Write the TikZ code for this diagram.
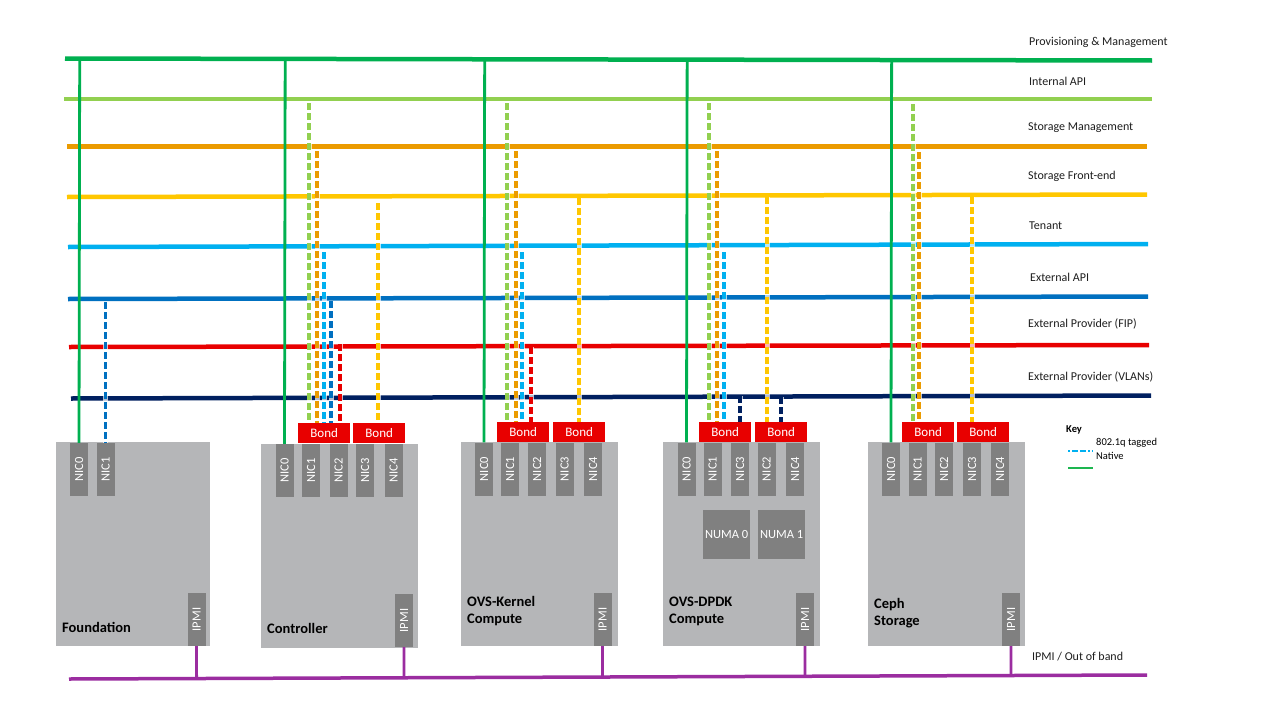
\documentclass[tikz,border=0pt]{standalone}
\usepackage{fontspec}
\setmainfont{Carlito}
\usetikzlibrary{calc}
\definecolor{cprov}{RGB}{0,176,80}
\definecolor{cint}{RGB}{146,208,80}
\definecolor{csmg}{RGB}{235,155,0}
\definecolor{csfe}{RGB}{255,199,0}
\definecolor{cten}{RGB}{0,176,240}
\definecolor{cext}{RGB}{0,112,192}
\definecolor{cfip}{RGB}{232,0,0}
\definecolor{cvlan}{RGB}{0,32,96}
\definecolor{cipmi}{RGB}{155,45,160}
\definecolor{hostgray}{RGB}{181,182,184}
\definecolor{nicgray}{RGB}{128,128,128}
\definecolor{txtgray}{RGB}{30,30,30}
\tikzset{
  bus/.style={line width=4.5pt},
  nativeline/.style={line width=2.8pt, draw=cprov},
  dropline/.style={line width=3.1pt, dash pattern=on 7pt off 3pt},
  dropcase/.style={line width=5pt, draw=white, opacity=0.7},
  ipmiline/.style={line width=2.8pt, draw=cipmi},
  hostbox/.style={fill=hostgray, inner sep=0pt, anchor=north west},
  nicbox/.style={fill=nicgray, text=white, rotate=90, minimum width=53pt, minimum height=18pt, inner sep=0pt, font=\fontsize{12.5}{12.5}\selectfont},
  bondbox/.style={fill=cfip, text=white, minimum width=52pt, minimum height=20pt, inner sep=0pt, anchor=north west, font=\fontsize{13}{13}\selectfont},
  numabox/.style={fill=nicgray, text=white, minimum width=47pt, minimum height=49pt, inner sep=0pt, anchor=north west, font=\fontsize{12.5}{12.5}\selectfont},
  netlabel/.style={anchor=west, inner sep=0pt, text=txtgray, font=\fontsize{12}{12}\selectfont},
  hostlabel/.style={anchor=west, inner sep=0pt, align=left, text=black, font=\fontsize{14.5}{17}\selectfont\bfseries},
  keytext/.style={anchor=west, inner sep=0pt, text=black, font=\fontsize{10.5}{10.5}\selectfont},
}
% #1 colour, #2 x, #3 start y, #4 end anchor
\newcommand\netdrop[4]{%
  \draw[dropcase] (#2,#3) -- (#2,0 |- #4);
  \draw[dropline,draw=#1] (#2,#3) -- (#2,0 |- #4);}
\begin{document}
\begin{tikzpicture}[x=1pt,y=-1pt]
\useasboundingbox (0,0) rectangle (1280,720);
\fill[white] (0,0) rectangle (1280,720);

% ---------- network buses ----------
\coordinate (p1) at (65,58.5);   \coordinate (p2) at (1152,60.5);
\coordinate (i1) at (64,99);     \coordinate (i2) at (1152,99);
\coordinate (m1) at (67,146.5);  \coordinate (m2) at (1147,146.5);
\coordinate (s1) at (67,197);    \coordinate (s2) at (1147,194.5);
\coordinate (t1) at (68,247);    \coordinate (t2) at (1148,244);
\coordinate (e1) at (68,299);    \coordinate (e2) at (1148,296.5);
\coordinate (f1) at (69,347);    \coordinate (f2) at (1149,345);
\coordinate (v1) at (71,398.5);  \coordinate (v2) at (1151,395.5);
\coordinate (q1) at (69,679);    \coordinate (q2) at (1147,675);

\draw[bus,draw=cprov] (p1) -- (p2);
\draw[bus,draw=cint]  (i1) -- (i2);
\draw[bus,draw=csmg]  (m1) -- (m2);
\draw[bus,draw=csfe]  (s1) -- (s2);
\draw[bus,draw=cten]  (t1) -- (t2);
\draw[bus,draw=cext]  (e1) -- (e2);
\draw[bus,draw=cfip]  (f1) -- (f2);
\draw[bus,draw=cvlan] (v1) -- (v2);
\draw[line width=3.5pt,draw=cipmi] (q1) -- (q2);

% ---------- network labels ----------
\node[netlabel] (lprov) at (1029,42) {Provisioning \& Management};
\node[netlabel] (lint)  at (1029,81) {Internal API};
\node[netlabel] (lsmg)  at (1028,128) {Storage Management};
\node[netlabel] (lsfe)  at (1028,176) {Storage Front-end};
\node[netlabel] (lten)  at (1029,226) {Tenant};
\node[netlabel] (lext)  at (1030,277) {External API};
\node[netlabel] (lfip)  at (1028,324) {External Provider (FIP)};
\node[netlabel] (lvlan) at (1028,377) {External Provider (VLANs)};
\node[netlabel] (lipmi) at (1032,657) {IPMI / Out of band};

% ---------- hosts ----------
\node[hostbox, minimum width=154pt, minimum height=204pt] (fnd) at (56,442) {};
\node[hostbox, minimum width=157pt, minimum height=204pt] (ctl) at (261,444) {};
\node[hostbox, minimum width=157pt, minimum height=204pt] (ovk) at (461,442) {};
\node[hostbox, minimum width=157pt, minimum height=204pt] (ovd) at (663,442) {};
\node[hostbox, minimum width=157pt, minimum height=204pt] (cep) at (868,442) {};

\node[hostlabel] (fndl) at (62,627) {Foundation};
\node[hostlabel] (ctll) at (267,628) {Controller};
\node[hostlabel] (ovkl) at (467,611.5) {OVS-Kernel\\Compute};
\node[hostlabel] (ovdl) at (669,611.5) {OVS-DPDK\\Compute};
\node[hostlabel] (cepl) at (874,613) {Ceph\\Storage};

% NICs
\node[nicbox] (fn0) at (79,469.5) {NIC0};
\node[nicbox] (fn1) at (105.5,469.5) {NIC1};

\node[nicbox] (cn0) at (284.5,470.5) {NIC0};
\node[nicbox] (cn1) at (311,470.5) {NIC1};
\node[nicbox] (cn2) at (338.5,470.5) {NIC2};
\node[nicbox] (cn3) at (365,470.5) {NIC3};
\node[nicbox] (cn4) at (393.5,470.5) {NIC4};

\node[nicbox] (kn0) at (484,469) {NIC0};
\node[nicbox] (kn1) at (510,469) {NIC1};
\node[nicbox] (kn2) at (537,469) {NIC2};
\node[nicbox] (kn3) at (564.5,469) {NIC3};
\node[nicbox] (kn4) at (593,469) {NIC4};

\node[nicbox] (dn0) at (686.5,469) {NIC0};
\node[nicbox] (dn1) at (712.5,469) {NIC1};
\node[nicbox] (dn3) at (740,469) {NIC3};
\node[nicbox] (dn2) at (766.5,469) {NIC2};
\node[nicbox] (dn4) at (795,469) {NIC4};

\node[nicbox] (en0) at (891,469) {NIC0};
\node[nicbox] (en1) at (917.5,469) {NIC1};
\node[nicbox] (en2) at (944,469) {NIC2};
\node[nicbox] (en3) at (972,469) {NIC3};
\node[nicbox] (en4) at (1000,469) {NIC4};

% IPMI
\node[nicbox] (fip) at (196.5,619.5) {IPMI};
\node[nicbox] (cip) at (404,620.5) {IPMI};
\node[nicbox] (kip) at (602.5,619.5) {IPMI};
\node[nicbox] (dip) at (805,619.5) {IPMI};
\node[nicbox] (eip) at (1011,619.5) {IPMI};

% NUMA
\node[numabox] (numa0) at (703,510) {NUMA 0};
\node[numabox] (numa1) at (758,510) {NUMA 1};

% Bonds
\node[bondbox] (cb1) at (298,423) {Bond};
\node[bondbox] (cb2) at (353,423) {Bond};
\node[bondbox] (kb1) at (497,422) {Bond};
\node[bondbox] (kb2) at (553,422) {Bond};
\node[bondbox] (db1) at (699,422) {Bond};
\node[bondbox] (db2) at (755,422) {Bond};
\node[bondbox] (eb1) at (902,422) {Bond};
\node[bondbox] (eb2) at (957,422) {Bond};

% ---------- native (provisioning) links ----------
\draw[nativeline] ($(p1)!(fn0.east)!(p2)$) -- (fn0.east);
\draw[nativeline] ($(p1)!(cn0.east)!(p2)$) -- (cn0.east);
\draw[nativeline] ($(p1)!(kn0.east)!(p2)$) -- (kn0.east);
\draw[nativeline] ($(p1)!(dn0.east)!(p2)$) -- (dn0.east);
\draw[nativeline] ($(p1)!(en0.east)!(p2)$) -- (en0.east);

% ---------- tagged (802.1q) links ----------
\netdrop{cext}{105.5}{302}{fn1.east}

\netdrop{cint}{309}{103}{cb1.north}
\netdrop{csmg}{317}{151}{cb1.north}
\netdrop{cten}{324}{252}{cb1.north}
\netdrop{cext}{331}{301}{cb1.north}
\netdrop{cfip}{340}{344}{cb1.north}
\netdrop{csfe}{378}{203}{cb2.north}

\netdrop{cint}{507}{103}{kb1.north}
\netdrop{csmg}{516}{151}{kb1.north}
\netdrop{cten}{522}{252}{kb1.north}
\netdrop{cfip}{531}{347}{kb1.north}
\netdrop{csfe}{579}{198}{kb2.north}

\netdrop{cint}{709}{103}{db1.north}
\netdrop{csmg}{717}{151}{db1.north}
\netdrop{cten}{724}{252}{db1.north}
\netdrop{cvlan}{740}{396}{db1.north}
\netdrop{csfe}{767}{197}{db2.north}
\netdrop{cvlan}{781}{397}{db2.north}

\netdrop{cint}{913}{104}{eb1.north}
\netdrop{csmg}{919}{152}{eb1.north}
\netdrop{csfe}{972}{197}{eb2.north}

% ---------- IPMI links ----------
\draw[ipmiline] (fip.west) -- ($(q1)!(fip.west)!(q2)$);
\draw[ipmiline] (cip.west) -- ($(q1)!(cip.west)!(q2)$);
\draw[ipmiline] (kip.west) -- ($(q1)!(kip.west)!(q2)$);
\draw[ipmiline] (dip.west) -- ($(q1)!(dip.west)!(q2)$);
\draw[ipmiline] (eip.west) -- ($(q1)!(eip.west)!(q2)$);

% ---------- key ----------
\node[keytext, font=\fontsize{10.5}{10.5}\selectfont\bfseries] (keyt) at (1066,430) {Key};
\node[keytext] (keytag) at (1096,443) {802.1q tagged};
\node[keytext] (keynat) at (1096,456) {Native};
\coordinate (kd1) at (1068,451); \coordinate (kd2) at (1093,451);
\coordinate (kn1) at (1068,468); \coordinate (kn2) at (1093,468);
\draw[line width=2pt, draw=cten, dash pattern=on 2pt off 2pt on 6pt off 2pt on 6pt off 2pt] (kd1) -- (kd2);
\draw[line width=2.2pt, draw=cprov!80!cint] (kn1) -- (kn2);
\end{tikzpicture}
\end{document}
